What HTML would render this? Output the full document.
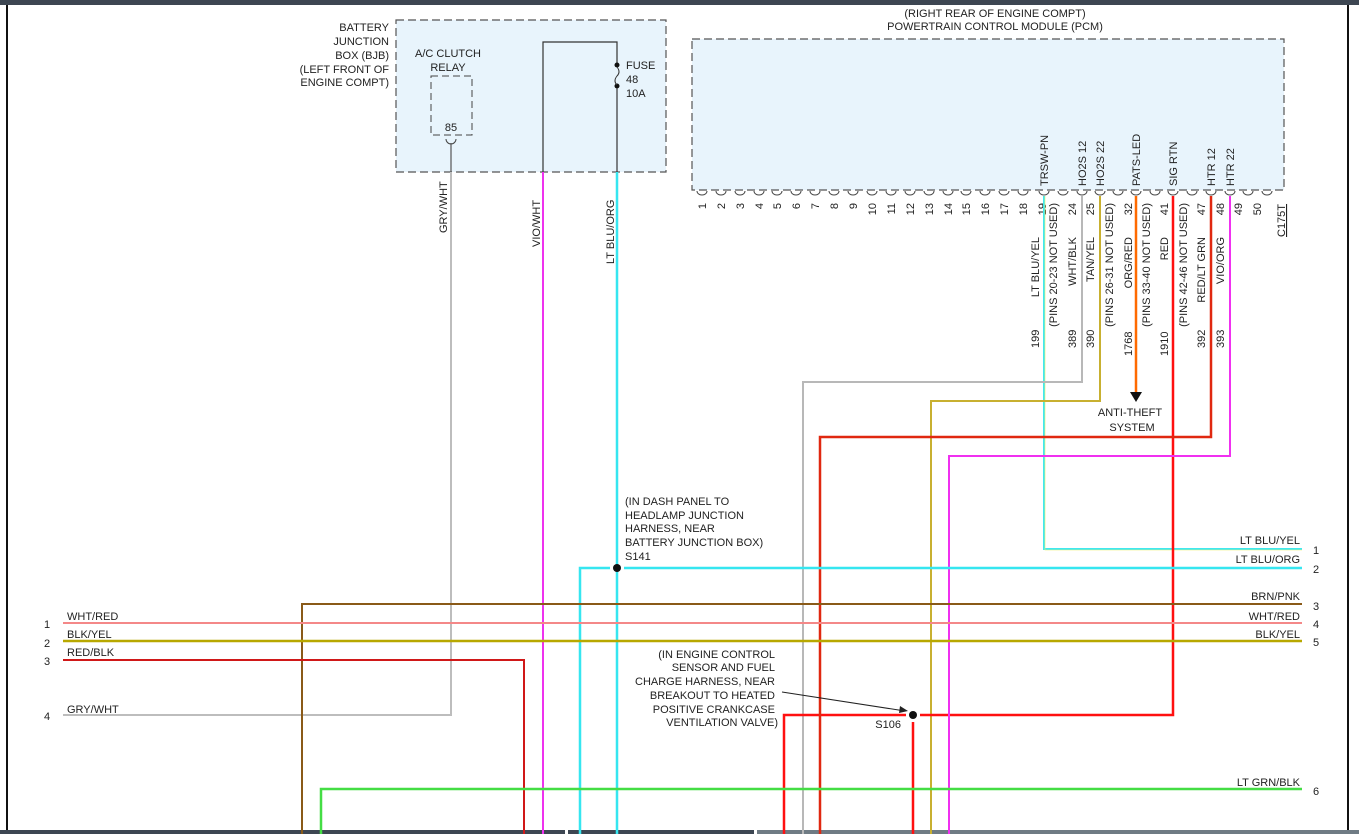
<!DOCTYPE html>
<html><head><meta charset="utf-8"><style>
html,body{margin:0;padding:0;background:#fff}
svg{display:block}
text{font-family:"Liberation Sans",sans-serif;font-size:11px;fill:#222}
</style></head><body>
<svg width="1359" height="834" viewBox="0 0 1359 834" xmlns="http://www.w3.org/2000/svg">
<rect x="0" y="0" width="1359" height="5" fill="#3d4652"/>
<line x1="7" y1="5" x2="7" y2="834" stroke="#111" stroke-width="2"/>
<line x1="1348" y1="5" x2="1348" y2="834" stroke="#111" stroke-width="2"/>
<rect x="0" y="830" width="565" height="4" fill="#3d4652"/>
<rect x="568" y="830" width="186" height="4" fill="#3d4652"/>
<rect x="757" y="830" width="602" height="4" fill="#6f7b84"/>

<!-- BJB -->
<rect x="396" y="20" width="270" height="152" fill="#e8f4fc" stroke="#555" stroke-dasharray="8,4" stroke-width="1.2"/>
<g text-anchor="end">
<text x="389" y="31">BATTERY</text><text x="389" y="45">JUNCTION</text><text x="389" y="59">BOX (BJB)</text><text x="389" y="73">(LEFT FRONT OF</text><text x="389" y="86">ENGINE COMPT)</text>
</g>
<text x="448" y="57" text-anchor="middle">A/C CLUTCH</text><text x="448" y="71" text-anchor="middle">RELAY</text>
<rect x="431" y="76" width="41" height="59" fill="none" stroke="#444" stroke-dasharray="7,4"/>
<text x="451" y="131" text-anchor="middle">85</text>
<path d="M446 139 a5 5 0 0 0 10 0" fill="none" stroke="#444"/>
<line x1="451" y1="143" x2="451" y2="172" stroke="#555" stroke-width="1.2"/>
<polyline points="543,172 543,42 617,42 617,63" fill="none" stroke="#333" stroke-width="1.2"/>
<circle cx="617" cy="65" r="2.5" fill="#111"/><circle cx="617" cy="86" r="2.5" fill="#111"/>
<path d="M617 67 q4 5 0 9 q-4 5 0 9" fill="none" stroke="#333"/>
<line x1="617" y1="88" x2="617" y2="172" stroke="#333" stroke-width="1.2"/>
<text x="626" y="69">FUSE</text><text x="626" y="83">48</text><text x="626" y="97">10A</text>

<!-- PCM -->
<rect x="692" y="39" width="592" height="151" fill="#e8f4fc" stroke="#555" stroke-dasharray="8,4" stroke-width="1.2"/>
<text x="995" y="17" text-anchor="middle">(RIGHT REAR OF ENGINE COMPT)</text>
<text x="995" y="30" text-anchor="middle">POWERTRAIN CONTROL MODULE (PCM)</text>
<g>
<text transform="translate(1048,186) rotate(-90)">TRSW-PN</text>
<text transform="translate(1086,186) rotate(-90)">HO2S 12</text>
<text transform="translate(1104,186) rotate(-90)">HO2S 22</text>
<text transform="translate(1140,186) rotate(-90)">PATS-LED</text>
<text transform="translate(1177,186) rotate(-90)">SIG RTN</text>
<text transform="translate(1215,186) rotate(-90)">HTR 12</text>
<text transform="translate(1234,186) rotate(-90)">HTR 22</text>
</g>
<g fill="none" stroke="#444">
<path d="M697 191 a5 4 0 0 0 10 0"/><path d="M716 191 a5 4 0 0 0 10 0"/><path d="M735 191 a5 4 0 0 0 10 0"/><path d="M754 191 a5 4 0 0 0 10 0"/><path d="M772 191 a5 4 0 0 0 10 0"/><path d="M791 191 a5 4 0 0 0 10 0"/><path d="M810 191 a5 4 0 0 0 10 0"/><path d="M829 191 a5 4 0 0 0 10 0"/><path d="M848 191 a5 4 0 0 0 10 0"/><path d="M867 191 a5 4 0 0 0 10 0"/><path d="M886 191 a5 4 0 0 0 10 0"/><path d="M905 191 a5 4 0 0 0 10 0"/><path d="M924 191 a5 4 0 0 0 10 0"/><path d="M943 191 a5 4 0 0 0 10 0"/><path d="M961 191 a5 4 0 0 0 10 0"/><path d="M980 191 a5 4 0 0 0 10 0"/><path d="M999 191 a5 4 0 0 0 10 0"/><path d="M1018 191 a5 4 0 0 0 10 0"/><path d="M1039 191 a5 4 0 0 0 10 0"/>
<path d="M1058 191 a5 4 0 0 0 10 0"/><path d="M1077 191 a5 4 0 0 0 10 0"/><path d="M1095 191 a5 4 0 0 0 10 0"/><path d="M1113 191 a5 4 0 0 0 10 0"/><path d="M1131 191 a5 4 0 0 0 10 0"/><path d="M1150 191 a5 4 0 0 0 10 0"/><path d="M1168 191 a5 4 0 0 0 10 0"/><path d="M1187 191 a5 4 0 0 0 10 0"/><path d="M1206 191 a5 4 0 0 0 10 0"/><path d="M1225 191 a5 4 0 0 0 10 0"/><path d="M1243 191 a5 4 0 0 0 10 0"/><path d="M1262 191 a5 4 0 0 0 10 0"/>
</g>
<g text-anchor="end">
<text transform="translate(706,203) rotate(-90)">1</text><text transform="translate(725,203) rotate(-90)">2</text><text transform="translate(744,203) rotate(-90)">3</text><text transform="translate(763,203) rotate(-90)">4</text><text transform="translate(781,203) rotate(-90)">5</text><text transform="translate(800,203) rotate(-90)">6</text><text transform="translate(819,203) rotate(-90)">7</text><text transform="translate(838,203) rotate(-90)">8</text><text transform="translate(857,203) rotate(-90)">9</text><text transform="translate(876,203) rotate(-90)">10</text><text transform="translate(895,203) rotate(-90)">11</text><text transform="translate(914,203) rotate(-90)">12</text><text transform="translate(933,203) rotate(-90)">13</text><text transform="translate(952,203) rotate(-90)">14</text><text transform="translate(970,203) rotate(-90)">15</text><text transform="translate(989,203) rotate(-90)">16</text><text transform="translate(1008,203) rotate(-90)">17</text><text transform="translate(1027,203) rotate(-90)">18</text><text transform="translate(1046,203) rotate(-90)">19</text>
<text transform="translate(1057,203) rotate(-90)">(PINS 20-23 NOT USED)</text>
<text transform="translate(1076,203) rotate(-90)">24</text>
<text transform="translate(1094,203) rotate(-90)">25</text>
<text transform="translate(1113,203) rotate(-90)">(PINS 26-31 NOT USED)</text>
<text transform="translate(1132,203) rotate(-90)">32</text>
<text transform="translate(1150,203) rotate(-90)">(PINS 33-40 NOT USED)</text>
<text transform="translate(1168,203) rotate(-90)">41</text>
<text transform="translate(1187,203) rotate(-90)">(PINS 42-46 NOT USED)</text>
<text transform="translate(1205,203) rotate(-90)">47</text>
<text transform="translate(1224,203) rotate(-90)">48</text>
<text transform="translate(1242,203) rotate(-90)">49</text>
<text transform="translate(1261,203) rotate(-90)">50</text>
<text transform="translate(1039,237) rotate(-90)">LT BLU/YEL</text>
<text transform="translate(1076,237) rotate(-90)">WHT/BLK</text>
<text transform="translate(1094,237) rotate(-90)">TAN/YEL</text>
<text transform="translate(1132,237) rotate(-90)">ORG/RED</text>
<text transform="translate(1168,237) rotate(-90)">RED</text>
<text transform="translate(1205,237) rotate(-90)">RED/LT GRN</text>
<text transform="translate(1224,237) rotate(-90)">VIO/ORG</text>
</g>
<g>
<text transform="translate(1285,237) rotate(-90)" text-decoration="underline">C175T</text>
<text transform="translate(1039,348) rotate(-90)">199</text>
<text transform="translate(1076,348) rotate(-90)">389</text>
<text transform="translate(1094,348) rotate(-90)">390</text>
<text transform="translate(1132,356) rotate(-90)">1768</text>
<text transform="translate(1168,356) rotate(-90)">1910</text>
<text transform="translate(1205,348) rotate(-90)">392</text>
<text transform="translate(1224,348) rotate(-90)">393</text>
<text transform="translate(447,233) rotate(-90)">GRY/WHT</text>
<text transform="translate(540,247) rotate(-90)">VIO/WHT</text>
<text transform="translate(614,264) rotate(-90)">LT BLU/ORG</text>
</g>

<!-- wires -->
<g fill="none" stroke-width="2">
<polyline points="1044,196 1044,549 1302,549" stroke="#40e8f0" stroke-width="2"/>
<polyline points="1045,196 1045,550 1302,550" stroke="#f0f060" stroke-width="0.6"/>
<polyline points="1082,196 1082,382 803,382 803,834" stroke="#b8b8b8"/>
<polyline points="1100,196 1100,401 931,401 931,834" stroke="#c8b030"/>
<polyline points="1136,196 1136,392" stroke="#ff6a00" stroke-width="2.5"/>
<polyline points="1173,196 1173,715 920,715" stroke="#ff1010" stroke-width="2.5"/>
<polyline points="906,715 784,715 784,834" stroke="#ff1010" stroke-width="2.5"/>
<line x1="913" y1="722" x2="913" y2="834" stroke="#ff1010" stroke-width="2.5"/>
<polyline points="1211,196 1211,437 820,437 820,834" stroke="#e02810" stroke-width="2.5"/>
<polyline points="1230,196 1230,456 949,456 949,834" stroke="#f030f0"/>
<polyline points="451,172 451,715 63,715" stroke="#bdbdbd"/>
<line x1="543" y1="172" x2="543" y2="834" stroke="#ee33ee"/>
<line x1="617" y1="172" x2="617" y2="834" stroke="#36e6f0" stroke-width="2.5"/>
<polyline points="624,568 1302,568" stroke="#36e6f0" stroke-width="2.5"/>
<polyline points="610,568 580,568 580,834" stroke="#36e6f0" stroke-width="2.5"/>
<polyline points="302,834 302,604 1302,604" stroke="#8a5a18"/>
<line x1="63" y1="623" x2="1302" y2="623" stroke="#f48888"/>
<line x1="63" y1="641" x2="1302" y2="641" stroke="#b8a800" stroke-width="2.5"/>
<polyline points="63,660 524,660 524,834" stroke="#d01818"/>
<polyline points="321,834 321,789 1302,789" stroke="#44dd44" stroke-width="2.5"/>
</g>
<polygon points="1130,392 1142,392 1136,402" fill="#111"/>
<text x="1130" y="416" text-anchor="middle">ANTI-THEFT</text>
<text x="1132" y="431" text-anchor="middle">SYSTEM</text>
<circle cx="617" cy="568" r="4" fill="#111"/>
<circle cx="913" cy="715" r="4" fill="#111"/>
<line x1="782" y1="692" x2="905" y2="711" stroke="#222"/>
<polygon points="908,711 900,706 899,713" fill="#222"/>
<g>
<text x="625" y="505">(IN DASH PANEL TO</text><text x="625" y="519">HEADLAMP JUNCTION</text><text x="625" y="532">HARNESS, NEAR</text><text x="625" y="546">BATTERY JUNCTION BOX)</text><text x="625" y="560">S141</text>
</g>
<g text-anchor="end">
<text x="775" y="658">(IN ENGINE CONTROL</text><text x="775" y="671">SENSOR AND FUEL</text><text x="775" y="685">CHARGE HARNESS, NEAR</text><text x="775" y="699">BREAKOUT TO HEATED</text><text x="775" y="713">POSITIVE CRANKCASE</text><text x="778" y="726">VENTILATION VALVE)</text>
<text x="901" y="728">S106</text>
<text x="1300" y="544">LT BLU/YEL</text><text x="1300" y="563">LT BLU/ORG</text><text x="1300" y="600">BRN/PNK</text><text x="1300" y="620">WHT/RED</text><text x="1300" y="638">BLK/YEL</text><text x="1300" y="786">LT GRN/BLK</text>
</g>
<g>
<text x="1313" y="554">1</text><text x="1313" y="573">2</text><text x="1313" y="610">3</text><text x="1313" y="628">4</text><text x="1313" y="646">5</text><text x="1313" y="795">6</text>
<text x="44" y="628">1</text><text x="44" y="647">2</text><text x="44" y="665">3</text><text x="44" y="720">4</text>
<text x="67" y="620">WHT/RED</text><text x="67" y="638">BLK/YEL</text><text x="67" y="656">RED/BLK</text><text x="67" y="713">GRY/WHT</text>
</g>
</svg>
</body></html>
